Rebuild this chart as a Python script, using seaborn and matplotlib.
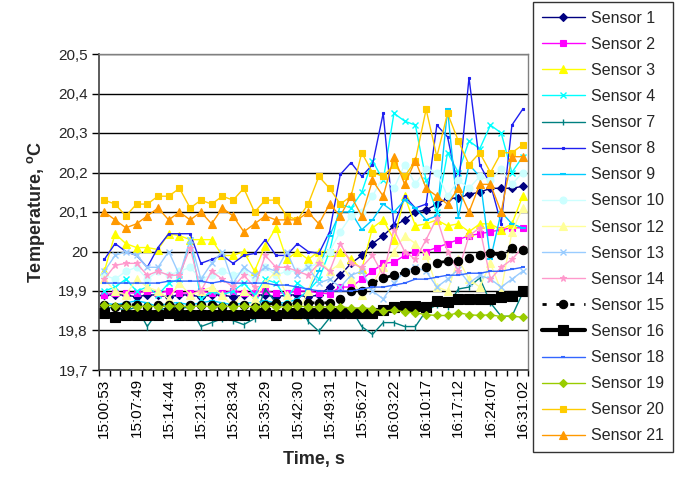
import numpy as np
import pandas as pd
import matplotlib
matplotlib.use("Agg")
import matplotlib.pyplot as plt
import seaborn as sns

sns.set_theme(style="white")
plt.rcParams['font.family'] = ['Liberation Sans', 'DejaVu Sans']
plt.rcParams['mathtext.fontset'] = 'custom'
plt.rcParams['mathtext.rm'] = 'Liberation Sans:bold'
plt.rcParams['mathtext.default'] = 'rm'

tick_labels = ["15:00:53", "15:07:49", "15:14:44", "15:21:39", "15:28:34", "15:35:29",
               "15:42:30", "15:49:31", "15:56:27", "16:03:22", "16:10:17", "16:17:12",
               "16:24:07", "16:31:02"]
n_points = 40

sensor1 = [19.89, 19.89, 19.89, 19.885, 19.89, 19.89, 19.885, 19.89, 19.89, 19.885,
           19.89, 19.89, 19.885, 19.89, 19.89, 19.89, 19.885, 19.89, 19.89, 19.885,
           19.89, 19.91, 19.94, 19.97, 19.99, 20.02, 20.04, 20.065, 20.08, 20.10,
           20.105, 20.12, 20.135, 20.135, 20.145, 20.15, 20.16, 20.16, 20.16, 20.165]
sensor2 = [19.89, 19.895, 19.895, 19.895, 19.9, 19.895, 19.9, 19.895, 19.895, 19.9,
           19.895, 19.895, 19.9, 19.895, 19.895, 19.9, 19.895, 19.895, 19.9, 19.9,
           19.895, 19.893, 19.91, 19.91, 19.93, 19.95, 19.97, 19.973, 19.99, 20.0,
           20.0, 20.01, 20.02, 20.03, 20.04, 20.045, 20.05, 20.055, 20.06, 20.06]
sensor3 = [19.95, 20.045, 20.02, 20.01, 20.01, 20.005, 20.045, 20.04, 20.03, 20.03,
           20.03, 19.99, 19.99, 20.0, 19.95, 20.015, 20.06, 19.98, 20.0, 19.98,
           20.0, 20.0, 20.0, 19.98, 19.955, 20.06, 20.08, 20.03, 20.14, 20.065,
           20.07, 20.08, 20.065, 20.07, 20.05, 20.07, 20.07, 20.055, 20.07, 20.14]
sensor4 = [19.90, 19.91, 19.93, 19.90, 19.91, 19.89, 19.92, 19.93, 20.03, 19.88,
           19.90, 19.89, 19.90, 19.92, 19.89, 19.93, 19.92, 19.88, 19.92, 19.90,
           19.93, 20.00, 20.12, 20.11, 20.15, 20.23, 20.18, 20.35, 20.33, 20.32,
           20.18, 20.10, 20.25, 20.20, 20.28, 20.26, 20.32, 20.30, 20.20, 20.24]
sensor7 = [19.855, 19.86, 19.85, 19.86, 19.81, 19.85, 19.86, 19.855, 19.86, 19.81,
           19.82, 19.83, 19.825, 19.815, 19.83, 19.905, 19.87, 19.86, 19.875, 19.823,
           19.798, 19.832, 19.86, 19.855, 19.81, 19.79, 19.82, 19.82, 19.81, 19.81,
           19.85, 19.865, 19.86, 19.905, 19.91, 19.933, 19.87, 19.836, 19.836, 19.895]
sensor8 = [19.98, 20.02, 20.00, 19.99, 19.96, 20.01, 20.045, 20.045, 20.045, 19.97,
           19.98, 19.99, 19.97, 19.99, 19.995, 20.03, 19.99, 19.99, 20.02, 20.0,
           19.995, 20.05, 20.195, 20.225, 20.19, 20.22, 20.35, 20.065, 20.14, 20.11,
           20.12, 20.32, 20.29, 20.16, 20.44, 20.22, 20.17, 20.07, 20.32, 20.36]
sensor9 = [19.87, 19.865, 19.87, 19.875, 19.87, 19.86, 19.87, 19.87, 19.865, 19.87,
           19.875, 19.87, 19.865, 19.87, 19.87, 19.875, 19.87, 19.87, 19.88, 19.90,
           19.95, 20.04, 20.10, 20.10, 20.055, 20.08, 20.12, 20.10, 20.13, 20.11,
           20.08, 20.09, 20.36, 20.085, 20.22, 20.19, 19.98, 20.10, 20.07, 20.06]
sensor10 = [19.94, 19.93, 19.95, 19.96, 19.93, 19.95, 19.94, 19.95, 19.96, 19.93,
            19.94, 19.95, 19.94, 19.95, 19.93, 19.96, 19.94, 19.95, 19.95, 19.96,
            19.97, 20.0, 20.05, 20.09, 20.10, 20.14, 20.19, 20.16, 20.22, 20.17,
            20.21, 20.20, 20.14, 20.18, 20.16, 20.19, 20.18, 20.21, 20.17, 20.2]
sensor12 = [19.93, 19.90, 19.89, 19.93, 19.91, 19.90, 19.88, 19.92, 19.89, 19.90,
            19.91, 19.89, 19.86, 19.90, 19.88, 19.92, 19.95, 19.89, 19.84, 19.90,
            19.98, 19.95, 19.97, 19.93, 19.89, 19.92, 19.96, 20.0, 20.04, 20.02,
            19.99, 19.91, 19.90, 19.98, 19.93, 19.91, 19.97, 19.90, 20.05, 20.11]
sensor13 = [19.95, 19.99, 20.0, 19.99, 19.96, 19.96, 20.0, 19.94, 20.03, 19.93,
            19.97, 20.0, 19.92, 19.96, 19.94, 19.96, 19.95, 20.0, 19.94, 19.96,
            19.92, 19.93, 19.91, 19.94, 19.95, 19.90, 19.88, 19.92, 19.95, 19.96,
            19.95, 19.91, 19.93, 19.955, 19.92, 19.94, 19.93, 19.91, 19.93, 19.95]
sensor14 = [19.93, 19.965, 19.97, 19.97, 19.94, 19.95, 19.94, 19.94, 20.01, 19.90,
            19.95, 19.93, 19.91, 19.94, 19.91, 19.99, 19.96, 19.96, 19.95, 19.94,
            19.97, 19.95, 20.02, 19.97, 19.96, 19.99, 19.94, 20.055, 20.0, 19.98,
            20.03, 20.085, 20.0, 19.95, 20.04, 20.06, 19.93, 19.96, 19.98, 20.01]
sensor15 = [19.865, 19.86, 19.865, 19.865, 19.86, 19.865, 19.865, 19.86, 19.865, 19.865,
            19.865, 19.86, 19.865, 19.865, 19.86, 19.865, 19.87, 19.865, 19.87, 19.87,
            19.87, 19.87, 19.88, 19.90, 19.90, 19.92, 19.933, 19.94, 19.947, 19.954,
            19.962, 19.972, 19.975, 19.975, 19.984, 19.99, 19.996, 19.99, 20.008, 20.005]
sensor16 = [19.845, 19.833, 19.84, 19.84, 19.838, 19.84, 19.845, 19.84, 19.84, 19.84,
            19.84, 19.84, 19.84, 19.84, 19.845, 19.845, 19.84, 19.845, 19.845, 19.845,
            19.845, 19.845, 19.845, 19.845, 19.845, 19.845, 19.853, 19.86, 19.863, 19.863,
            19.86, 19.874, 19.873, 19.88, 19.88, 19.88, 19.88, 19.886, 19.888, 19.90]
sensor18 = [19.92, 19.92, 19.92, 19.92, 19.92, 19.92, 19.925, 19.925, 19.925, 19.925,
            19.92, 19.925, 19.92, 19.92, 19.92, 19.92, 19.915, 19.915, 19.91, 19.905,
            19.90, 19.90, 19.90, 19.90, 19.905, 19.91, 19.91, 19.915, 19.92, 19.93,
            19.93, 19.935, 19.94, 19.94, 19.945, 19.945, 19.95, 19.95, 19.955, 19.96]
sensor19 = [19.865, 19.862, 19.862, 19.86, 19.862, 19.86, 19.862, 19.862, 19.86, 19.862,
            19.86, 19.862, 19.86, 19.862, 19.86, 19.862, 19.86, 19.86, 19.862, 19.86,
            19.86, 19.86, 19.86, 19.857, 19.857, 19.855, 19.849, 19.852, 19.847, 19.845,
            19.84, 19.838, 19.838, 19.845, 19.84, 19.838, 19.84, 19.835, 19.837, 19.833]
sensor20 = [20.13, 20.12, 20.09, 20.12, 20.12, 20.14, 20.14, 20.16, 20.11, 20.13,
            20.12, 20.14, 20.13, 20.16, 20.10, 20.13, 20.13, 20.09, 20.08, 20.12,
            20.19, 20.16, 20.12, 20.14, 20.25, 20.20, 20.19, 20.22, 20.19, 20.23,
            20.36, 20.24, 20.35, 20.28, 20.22, 20.25, 20.20, 20.25, 20.25, 20.27]
sensor21 = [20.10, 20.08, 20.06, 20.07, 20.09, 20.11, 20.08, 20.10, 20.08, 20.10,
            20.07, 20.11, 20.09, 20.05, 20.07, 20.09, 20.08, 20.08, 20.08, 20.10,
            20.07, 20.12, 20.09, 20.14, 20.09, 20.18, 20.14, 20.24, 20.17, 20.23,
            20.16, 20.14, 20.12, 20.16, 20.10, 20.17, 20.17, 20.10, 20.24, 20.24]

series = [
    ("Sensor 1", sensor1, dict(color="#000080", marker="D", ms=4, lw=1.0)),
    ("Sensor 2", sensor2, dict(color="#FF00FF", marker="s", ms=5, lw=1.0)),
    ("Sensor 3", sensor3, dict(color="#FFFF00", marker="^", ms=5.5, lw=1.0)),
    ("Sensor 4", sensor4, dict(color="#00FFFF", marker="x", ms=4.5, lw=1.0, mew=1.0)),
    ("Sensor 7", sensor7, dict(color="#008080", marker="|", ms=5, lw=1.0, mew=1.0)),
    ("Sensor 8", sensor8, dict(color="#2020F0", marker="s", ms=2, lw=1.0)),
    ("Sensor 9", sensor9, dict(color="#00CCFF", marker="_", ms=5, lw=1.0, mew=1.5)),
    ("Sensor 10", sensor10, dict(color="#CCFFFF", marker="o", ms=5, lw=1.0)),
    ("Sensor 12", sensor12, dict(color="#FFFF99", marker="^", ms=5.5, lw=1.0)),
    ("Sensor 13", sensor13, dict(color="#99CCFF", marker="x", ms=4.5, lw=1.0, mew=1.0)),
    ("Sensor 14", sensor14, dict(color="#FF99CC", marker="*", ms=5, lw=1.0)),
    ("Sensor 15", sensor15, dict(color="#000000", marker="o", ms=6, lw=2.0, ls=(0, (1.5, 3.5)))),
    ("Sensor 16", sensor16, dict(color="#000000", marker="s", ms=6.5, lw=3.0)),
    ("Sensor 18", sensor18, dict(color="#3366FF", marker="_", ms=3, lw=1.0, mew=1.5)),
    ("Sensor 19", sensor19, dict(color="#99CC00", marker="D", ms=4.5, lw=1.0)),
    ("Sensor 20", sensor20, dict(color="#FFCC00", marker="s", ms=5, lw=1.0)),
    ("Sensor 21", sensor21, dict(color="#FF9900", marker="^", ms=5.5, lw=1.0)),
]

fig = plt.figure(figsize=(6.78, 4.79), dpi=100)
ax = fig.add_axes([99 / 678, 1 - 370 / 479, 429 / 678, 316 / 479])

idx = np.arange(n_points)
for name, vals, st in series:
    kw = dict(st)
    color = kw.pop("color")
    marker = kw.pop("marker")
    ms = kw.pop("ms")
    lw = kw.pop("lw")
    ls = kw.pop("ls", "-")
    mew = kw.pop("mew", 0.8)
    sns.lineplot(x=idx, y=vals, ax=ax, color=color, marker=marker, markersize=ms,
                 linewidth=lw, linestyle=ls, markeredgecolor=color, markerfacecolor=color,
                 markeredgewidth=mew, label=name, legend=False)

ax.set_xlim(-0.5, n_points - 0.5)
ax.set_ylim(19.7, 20.5)
yt = np.round(np.arange(19.7, 20.51, 0.1), 1)
ax.set_yticks(yt)
ax.set_yticklabels([("%g" % v).replace(".", ",") for v in yt], fontsize=11)
ax.yaxis.grid(True, color="black", linewidth=1.0)
ax.xaxis.grid(False)

ax.set_xticks(np.arange(0, n_points, 3))
ax.set_xticklabels(tick_labels, rotation=90, fontsize=11)
ax.set_xticks(np.arange(-0.5, n_points, 1), minor=True)
ax.tick_params(axis="x", which="major", length=0, pad=6, colors="black")
ax.tick_params(axis="x", which="minor", length=4, width=1, color="black", direction="out", bottom=True)
ax.tick_params(axis="y", which="major", length=5, width=1, color="black", direction="out", left=True, pad=3)

for s in ["left", "bottom"]:
    ax.spines[s].set_color("#404040")
    ax.spines[s].set_linewidth(1.2)
for s in ["top", "right"]:
    ax.spines[s].set_color("#808080")
    ax.spines[s].set_linewidth(1.0)

ax.set_xlabel("Time, s", fontsize=13, fontweight="bold", labelpad=10)
ax.set_ylabel(r"Temperature, $^{o}$C", fontsize=13, fontweight="bold", labelpad=8)

handles, labels = ax.get_legend_handles_labels()
leg = fig.legend(handles, labels, loc="upper left", bbox_to_anchor=(533 / 678, 1 - 2 / 479),
                 fontsize=11.5, frameon=True, fancybox=False, edgecolor="black",
                 handlelength=2.7, handletextpad=0.4, labelspacing=0.695,
                 borderpad=0.55, borderaxespad=0)
leg.get_frame().set_linewidth(1.0)

fig.savefig("out.png", dpi=100, facecolor="white")
